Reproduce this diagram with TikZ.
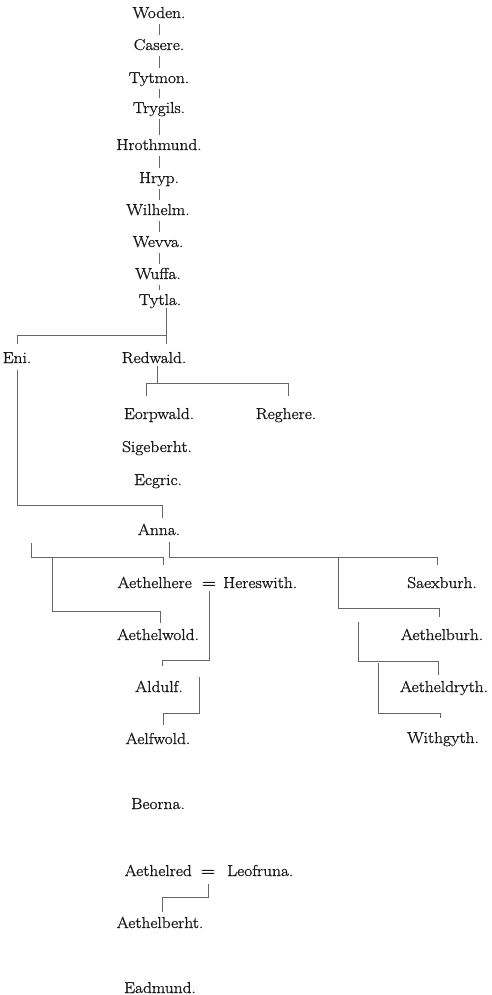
\documentclass[tikz,border=0pt]{standalone}
\usepackage{fontspec}
\newfontfamily\namefont{Latin Modern Roman}[FakeStretch=1.1, FakeBold=1.2]
\newfontfamily\eqfont{Latin Modern Roman}[FakeStretch=1.15, FakeBold=2.2]
\begin{document}
\begin{tikzpicture}[x=1pt,y=-1pt,
  nm/.style={font=\namefont\fontsize{15.8}{18}\selectfont, text=black!90, anchor=base, inner sep=0pt, text height=11pt, text depth=3pt},
  eqs/.style={nm, font=\eqfont\fontsize{16.5}{18}\selectfont},
  link/.style={draw=black!60, line width=0.6pt},
  chain/.style={link, shorten <=3pt, shorten >=4pt}]
\useasboundingbox (0,0) rectangle (491,995);
% main line
\node[nm] (woden) at (159,18) {Woden.};
\node[nm] (casere) at (159,50) {Casere.};
\node[nm] (tytmon) at (159,83) {Tytmon.};
\node[nm] (trygils) at (159,113) {Trygils.};
\node[nm] (hrothmund) at (159,150) {Hrothmund.};
\node[nm] (hryp) at (159,183) {Hryp.};
\node[nm] (wilhelm) at (158,215) {Wilhelm.};
\node[nm] (wevva) at (158,247) {Wevva.};
\node[nm] (wuffa) at (158,279) {Wuffa.};
\node[nm] (tytla) at (160,305) {Tytla.};
\node[nm] (eni) at (17,363) {Eni.};
\node[nm] (redwald) at (154,363) {Redwald.};
\node[nm] (eorpwald) at (159,419) {Eorpwald.};
\node[nm] (reghere) at (286,419) {Reghere.};
\node[nm] (sigeberht) at (157,452) {Sigeberht.};
\node[nm] (ecgric) at (158,485) {Ecgric.};
\node[nm] (anna) at (159,535) {Anna.};
\node[nm, anchor=base east] (aethelhere) at (192,588) {Aethelhere};
\node[eqs] (eqa) at (209,588) {=};
\node[nm, anchor=base west] (hereswith) at (223,588) {Hereswith.};
\node[nm] (saexburh) at (442,588) {Saexburh.};
\node[nm] (aethelwold) at (158,640) {Aethelwold.};
\node[nm] (aethelburh) at (442,640) {Aethelburh.};
\node[nm] (aldulf) at (159,692) {Aldulf.};
\node[nm] (aetheldryth) at (444,692) {Aetheldryth.};
\node[nm] (aelfwold) at (158,744) {Aelfwold.};
\node[nm] (withgyth) at (443,743) {Withgyth.};
\node[nm] (beorna) at (158,809) {Beorna.};
\node[nm, anchor=base east] (aethelred) at (192,876) {Aethelred};
\node[eqs] (eqb) at (208,876) {=};
\node[nm, anchor=base west] (leofruna) at (227,876) {Leofruna.};
\node[nm] (aethelberht) at (160,928) {Aethelberht.};
\node[nm] (eadmund) at (160,993) {Eadmund.};
% vertical chain
\foreach \a/\b in {woden/casere,casere/tytmon,tytmon/trygils,trygils/hrothmund,
  hrothmund/hryp,hryp/wilhelm,wilhelm/wevva,wevva/wuffa,wuffa/tytla}
  \draw[chain] (159,0 |- \a.south) -- (159,0 |- \b.north);
% Tytla's children
\coordinate (t1) at (166,335);
\draw[link] (t1 |- tytla.south) -- (t1);
\draw[link, shorten <=8pt, shorten >=8pt] (eni.north) |- (t1) -- (t1 |- redwald.north);
% Redwald's children
\coordinate (r0) at (157,383);
\coordinate (r1) at (146,383);
\coordinate (r2) at (288,383);
\draw[link] (r0 |- redwald.south) -- (r0);
\draw[link, shorten <=12pt, shorten >=12pt] (r1 |- eorpwald.north) |- (r2) -- (r2 |- reghere.north);
% Eni to Anna
\coordinate (e1) at (162,505);
\draw[link, shorten <=4pt, shorten >=6pt] (eni.south) |- (e1) -- (e1 |- anna.north);
% Anna's children
\coordinate (n1) at (31,543);
\coordinate (n2) at (163,557);
\coordinate (n3) at (169,557);
\coordinate (n4) at (437,557);
\draw[link, shorten >=12pt] (n1) |- (n2) -- (n2 |- aethelhere.north);
\draw[link, shorten <=4pt, shorten >=12pt] (n3 |- anna.south) -- (n3) -- (n4) -- (n4 |- saexburh.north);
\coordinate (w0) at (52,557);
\coordinate (w1) at (160,611);
\draw[link, shorten >=6pt] (w0) |- (w1) -- (w1 |- aethelwold.north);
\coordinate (b0) at (338,557);
\coordinate (b1) at (439,608);
\draw[link, shorten >=12pt] (b0) |- (b1) -- (b1 |- aethelburh.north);
\coordinate (c0) at (358,622);
\coordinate (c1) at (438,661);
\draw[link, shorten >=6pt] (c0) |- (c1) -- (c1 |- aetheldryth.north);
\coordinate (g0) at (378,663);
\coordinate (g1) at (440,713);
\draw[link, line width=0.9pt, shorten >=14pt] (g0) |- (g1) -- (g1 |- withgyth.north);
% Aethelhere = Hereswith
\coordinate (d1) at (162,660);
\draw[link, shorten >=15pt] (eqa.south) |- (d1) -- (d1 |- aldulf.north);
\coordinate (f0) at (199,677);
\coordinate (f1) at (163,713);
\draw[link, shorten >=8pt] (f0) |- (f1) -- (f1 |- aelfwold.north);
% Aethelred = Leofruna
\coordinate (h1) at (162,897);
\draw[link, shorten <=5pt, shorten >=5pt] (eqb.south) |- (h1) -- (h1 |- aethelberht.north);
\end{tikzpicture}
\end{document}
